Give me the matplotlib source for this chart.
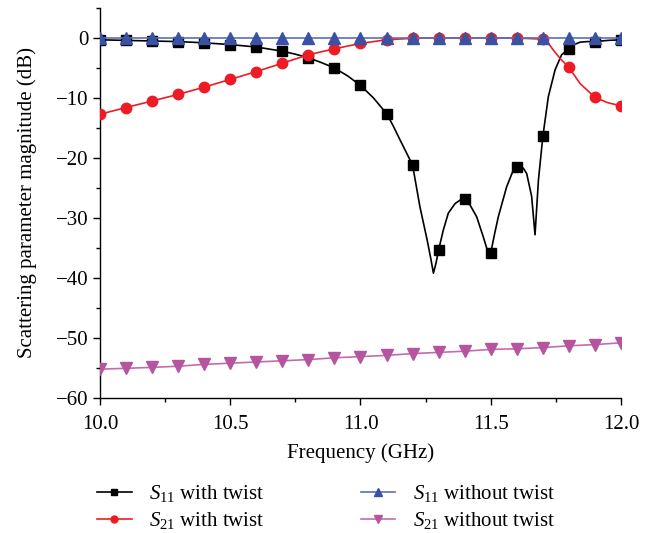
import matplotlib
matplotlib.use("Agg")
import matplotlib.pyplot as plt
from matplotlib.ticker import MultipleLocator
from matplotlib.lines import Line2D

plt.rcParams['font.family'] = ['Liberation Serif', 'DejaVu Serif']
plt.rcParams['mathtext.fontset'] = 'custom'
plt.rcParams['mathtext.rm'] = 'Liberation Serif'
plt.rcParams['mathtext.it'] = 'Liberation Serif:italic'

# Marker frequencies (GHz)
freq = [10.0, 10.1, 10.2, 10.3, 10.4, 10.5, 10.6, 10.7, 10.8, 10.9, 11.0,
        11.1, 11.2, 11.3, 11.4, 11.5, 11.6, 11.7, 11.8, 11.9, 12.0]

s11_twist = [-0.3, -0.4, -0.5, -0.6, -0.8, -1.1, -1.5, -2.2, -3.3, -5.0, -7.9,
             -12.6, -21.2, -35.3, -26.9, -35.8, -21.5, -16.4, -1.8, -0.6, -0.3]
s21_twist = [-12.7, -11.6, -10.5, -9.4, -8.2, -6.9, -5.6, -4.2, -2.8, -1.8, -0.9,
             -0.3, -0.05, 0.0, 0.0, 0.0, 0.0, -0.2, -4.9, -9.9, -11.3]
s11_no_twist = [0.0] * 21
s21_no_twist = [-55.2, -55.05, -54.9, -54.7, -54.4, -54.2, -54.0, -53.8, -53.6, -53.3, -53.1,
                -52.9, -52.6, -52.4, -52.2, -51.9, -51.8, -51.6, -51.3, -51.1, -50.8]

# Denser curve points read from the simulated (continuous) lines
s11_line_f = [10.0, 10.1, 10.2, 10.3, 10.4, 10.5, 10.6, 10.7, 10.75, 10.8, 10.85, 10.9,
              10.95, 11.0, 11.05, 11.1, 11.125, 11.152, 11.175, 11.2, 11.228, 11.256,
              11.270, 11.280, 11.290, 11.3, 11.318, 11.337, 11.363, 11.39, 11.4, 11.42,
              11.446, 11.471, 11.490, 11.497, 11.5, 11.515, 11.529, 11.561, 11.585, 11.6,
              11.605, 11.625, 11.638, 11.657, 11.670, 11.683, 11.7, 11.721, 11.747,
              11.772, 11.8, 11.82, 11.843, 11.87, 11.9, 11.95, 12.0]
s11_line_db = [-0.3, -0.4, -0.5, -0.6, -0.8, -1.1, -1.5, -2.2, -2.7, -3.3, -4.1, -5.0,
               -6.3, -7.9, -10.0, -12.6, -14.6, -17.0, -19.0, -21.2, -28.1, -33.7,
               -36.8, -39.2, -37.5, -35.3, -32.0, -29.2, -27.6, -26.8, -26.9, -27.8,
               -29.8, -33.1, -35.8, -36.4, -35.8, -32.6, -29.8, -24.8, -22.2, -21.4,
               -21.3, -21.7, -22.6, -26.4, -32.8, -23.7, -16.4, -9.8, -5.3,
               -2.8, -1.8, -1.1, -0.7, -0.6, -0.6, -0.4, -0.3]
s21_line_f = [10.0, 10.1, 10.2, 10.3, 10.4, 10.5, 10.6, 10.7, 10.8, 10.9, 11.0, 11.1,
              11.2, 11.3, 11.4, 11.5, 11.6, 11.7, 11.72, 11.74, 11.766, 11.8, 11.843,
              11.9, 11.95, 12.0]
s21_line_db = [-12.7, -11.6, -10.5, -9.4, -8.2, -6.9, -5.6, -4.2, -2.8, -1.8, -0.9, -0.3,
               -0.05, 0.0, 0.0, 0.0, 0.0, -0.2, -0.8, -2.0, -3.4, -4.9, -7.6,
               -9.9, -10.8, -11.3]

labels = [r'$S_{11}$ with twist', r'$S_{21}$ with twist',
          r'$S_{11}$ without twist', r'$S_{21}$ without twist']

c_black = '#000000'
c_red = '#ED1C24'
c_blue = '#3A52A3'
c_blue_line = '#5B6FBF'
c_mag = '#B5549F'
c_mag_line = '#C46BB0'

fig = plt.figure(figsize=(6.57, 5.33), dpi=100)
ax = fig.add_axes([0.1522, 0.2533, 0.7930, 0.7317])

lw = 1.2
ax.plot(s11_line_f, s11_line_db, color=c_black, lw=lw, zorder=2)
ax.plot(freq, s11_twist, ls='none', marker='s', ms=7.5, color=c_black, zorder=3)
ax.plot(s21_line_f, s21_line_db, color=c_red, lw=lw, zorder=4)
ax.plot(freq, s21_twist, ls='none', marker='o', ms=7.5, color=c_red, zorder=5)
ax.plot(freq, s11_no_twist, color=c_blue_line, lw=lw, zorder=6)
ax.plot(freq, s11_no_twist, ls='none', marker='^', ms=8, color=c_blue, zorder=7)
ax.plot(freq, s21_no_twist, color=c_mag_line, lw=lw, zorder=6)
ax.plot(freq, s21_no_twist, ls='none', marker='v', ms=8, color=c_mag, zorder=7)

handles = [
    Line2D([], [], color=c_black, lw=lw, marker='s', ms=5),
    Line2D([], [], color=c_red, lw=lw, marker='o', ms=5),
    Line2D([], [], color=c_blue_line, lw=lw, marker='^', ms=6, mfc=c_blue, mec=c_blue),
    Line2D([], [], color=c_mag_line, lw=lw, marker='v', ms=6, mfc=c_mag, mec=c_mag),
]
fig.legend(handles, labels, loc='upper left', bbox_to_anchor=(0.148, 0.093),
           ncol=2, frameon=False, fontsize=15, handlelength=1.65, handletextpad=0.85,
           columnspacing=4.6, labelspacing=0.28, borderaxespad=0, borderpad=0)

ax.set_xlim(10.0, 12.0)
ax.set_ylim(-60, 5)
ax.xaxis.set_major_locator(MultipleLocator(0.5))
ax.xaxis.set_minor_locator(MultipleLocator(0.25))
ax.yaxis.set_major_locator(MultipleLocator(10))
ax.yaxis.set_minor_locator(MultipleLocator(5))
ax.xaxis.set_major_formatter(plt.FuncFormatter(lambda v, p: f'{v:.1f}'))
ax.yaxis.set_major_formatter(plt.FuncFormatter(lambda v, p: f'{int(round(v))}'.replace('-', '\u2212')))

for s in ['top', 'right']:
    ax.spines[s].set_visible(False)
for s in ['left', 'bottom']:
    ax.spines[s].set_linewidth(1.0)
ax.tick_params(which='major', direction='out', length=5, width=1.0, labelsize=15)
ax.tick_params(axis='x', which='major', pad=7)
ax.tick_params(axis='y', which='major', pad=3)
ax.tick_params(which='minor', direction='out', length=3, width=1.0)

ax.set_xlabel('Frequency (GHz)', fontsize=15, labelpad=7)
ax.set_ylabel('Scattering parameter magnitude (dB)', fontsize=15, labelpad=14)

fig.savefig('out.png', dpi=100)
